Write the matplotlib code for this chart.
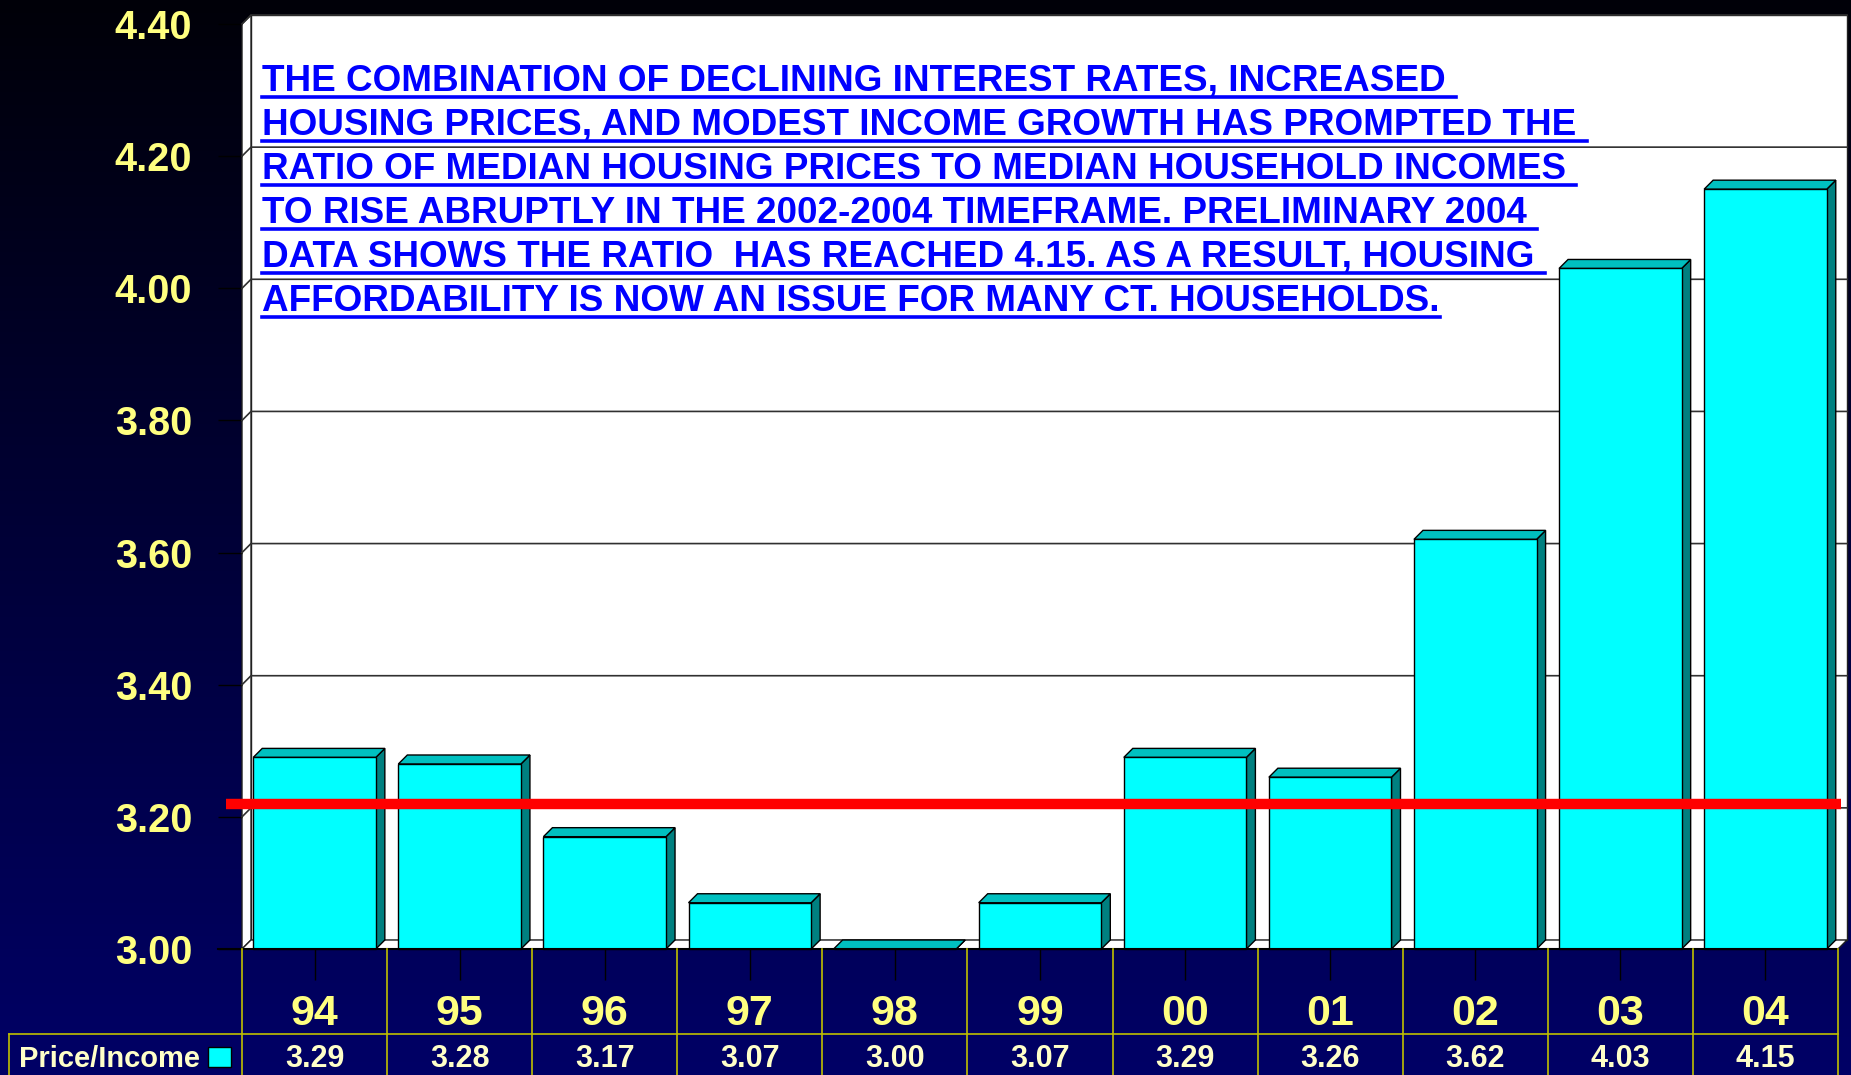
#!/usr/bin/env python3
import numpy as np
import matplotlib
matplotlib.use('Agg')
import matplotlib.pyplot as plt
from matplotlib.patches import Polygon, Rectangle
from matplotlib.lines import Line2D
from matplotlib.transforms import blended_transform_factory

# data
years = ['94', '95', '96', '97', '98', '99', '00', '01', '02', '03', '04']
ratio = [3.29, 3.28, 3.17, 3.07, 3.00, 3.07, 3.29, 3.26, 3.62, 4.03, 4.15]
reference_level = 3.22
y_ticks = [3.00, 3.20, 3.40, 3.60, 3.80, 4.00, 4.20, 4.40]
series_name = 'Price/Income'
note_lines = [
    "THE COMBINATION OF DECLINING INTEREST RATES, INCREASED ",
    "HOUSING PRICES, AND MODEST INCOME GROWTH HAS PROMPTED THE ",
    "RATIO OF MEDIAN HOUSING PRICES TO MEDIAN HOUSEHOLD INCOMES ",
    "TO RISE ABRUPTLY IN THE 2002-2004 TIMEFRAME. PRELIMINARY 2004 ",
    "DATA SHOWS THE RATIO  HAS REACHED 4.15. AS A RESULT, HOUSING ",
    "AFFORDABILITY IS NOW AN ISSUE FOR MANY CT. HOUSEHOLDS.",
]

plt.rcParams['font.family'] = ['Liberation Sans', 'DejaVu Sans']
plt.rcParams['font.weight'] = 'bold'

FW, FH = 1851, 1075
YELLOW = '#FFFF80'
PALE = '#FFFFC8'
GRIDY = '#C0C000'

def fx(px):
    return px / FW

def fy(px):
    return 1 - px / FH

fig = plt.figure(figsize=(FW / 100, FH / 100), dpi=100)

# dark gradient background
bg = fig.add_axes([0, 0, 1, 1], zorder=-10)
grad = np.linspace(0, 1, 256).reshape(-1, 1)
bg.imshow(grad, aspect='auto', extent=[0, 1, 0, 1], origin='upper',
          cmap=matplotlib.colors.LinearSegmentedColormap.from_list('bg', ['#000008', '#000066']))
bg.set_axis_off()

# main axes: front plane of the 3D chart
x0, x1, y_base, y_top = 242, 1838, 949, 24
ax = fig.add_axes([fx(x0), fy(y_base), (x1 - x0) / FW, (y_base - y_top) / FH])
ax.set_facecolor('none')
ax.set_xlim(-0.5, len(years) - 0.5)
ax.set_ylim(3.0, 4.4)
for s in ax.spines.values():
    s.set_visible(False)

n = len(years)
DX = 9 / ((x1 - x0) / n)
DY = 9 / ((y_base - y_top) / 1.4)
xl, xr = -0.5, n - 0.5

# walls and floor
ax.add_patch(Rectangle((xl + DX, 3.0 + DY), n, 1.4, facecolor='white', edgecolor='#202020',
                       lw=1, clip_on=False, zorder=1))
ax.add_patch(Polygon([(xl, 3.0), (xl + DX, 3.0 + DY), (xl + DX, 4.4 + DY), (xl, 4.4)],
                     closed=True, facecolor='white', edgecolor='#202020', lw=1, clip_on=False, zorder=1))
ax.add_patch(Polygon([(xl, 3.0), (xr, 3.0), (xr + DX, 3.0 + DY), (xl + DX, 3.0 + DY)],
                     closed=True, facecolor='white', edgecolor='#202020', lw=1, clip_on=False, zorder=1))

# gridlines on the back wall
for v in y_ticks[1:]:
    ax.plot([xl, xl + DX, xr + DX], [v, v + DY, v + DY], color='#303030', lw=1.2,
            clip_on=False, zorder=2)

# 3D bars
w = 0.845
for i, v in enumerate(ratio):
    a, b = i - w / 2, i + w / 2
    ax.add_patch(Polygon([(b, 3.0), (b + DX, 3.0 + DY), (b + DX, v + DY), (b, v)], closed=True,
                         facecolor='#008080', edgecolor='black', lw=1, clip_on=False, zorder=3))
    ax.add_patch(Polygon([(a, v), (b, v), (b + DX, v + DY), (a + DX, v + DY)], closed=True,
                         facecolor='#00C0C0', edgecolor='black', lw=1, clip_on=False, zorder=3))
    ax.add_patch(Rectangle((a, 3.0), w, v - 3.0, facecolor='#00FFFF', edgecolor='black',
                           lw=1, clip_on=False, zorder=3))

# red reference line
ax.plot([-0.61, xr + 0.02], [reference_level, reference_level], color='#FF0000', lw=7.5,
        solid_capstyle='butt', clip_on=False, zorder=5)

# axes ticks
ax.set_yticks(y_ticks)
ax.set_yticklabels(['%.2f' % t for t in y_ticks])
ax.tick_params(axis='y', length=17, width=1, color='black', pad=19, labelcolor=YELLOW,
               labelsize=28.5)
ax.set_xticks(range(n))
ax.set_xticklabels([])
ax.tick_params(axis='x', length=22, width=1, color='black', direction='out')
ax.axhline(3.0, xmin=-24 / (x1 - x0), xmax=1.0, color='black', lw=1.5, clip_on=False, zorder=4)

# data table below the chart
xy = blended_transform_factory(ax.transData, fig.transFigure)
row_y = 1034
for k in range(n + 1):
    fig.add_artist(Line2D([k - 0.5, k - 0.5], [fy(y_base), 0], transform=xy, color=GRIDY, lw=1.2))
fig.add_artist(Line2D([fx(9), fx(x1)], [fy(row_y), fy(row_y)], color=GRIDY, lw=1.2))
fig.add_artist(Line2D([fx(9), fx(9)], [fy(row_y), 0], color=GRIDY, lw=1.2))
for i, (yr, v) in enumerate(zip(years, ratio)):
    fig.text(i, fy(1014), yr, transform=xy, ha='center', va='center', color=YELLOW,
             fontsize=31, fontweight='bold')
    fig.text(i, fy(1059), '%.2f' % v, transform=xy, ha='center', va='center', color=PALE,
             fontsize=22, fontweight='bold')
fig.text(fx(19), fy(1059), series_name, ha='left', va='center', color=PALE, fontsize=21,
         fontweight='bold')
fig.add_artist(Rectangle((fx(208), fy(1067)), 23 / FW, 20 / FH, transform=fig.transFigure,
                         facecolor='#00FFFF', edgecolor='black', lw=1))

# note text with underline
fs = 26.6
texts = []
for j, line in enumerate(note_lines):
    base = 91 + 44 * j
    t = fig.text(fx(262), fy(base), line, ha='left', va='baseline', color='#0000FF',
                 fontsize=fs, fontweight='bold', zorder=6)
    texts.append((t, base))
fig.canvas.draw()
renderer = fig.canvas.get_renderer()
for t, base in texts:
    bb = t.get_window_extent(renderer)
    fig.add_artist(Line2D([bb.x0 / FW, bb.x1 / FW], [fy(base + 6), fy(base + 6)],
                          color='#0000FF', lw=2.6, zorder=6))

fig.savefig('out.png', dpi=100)
